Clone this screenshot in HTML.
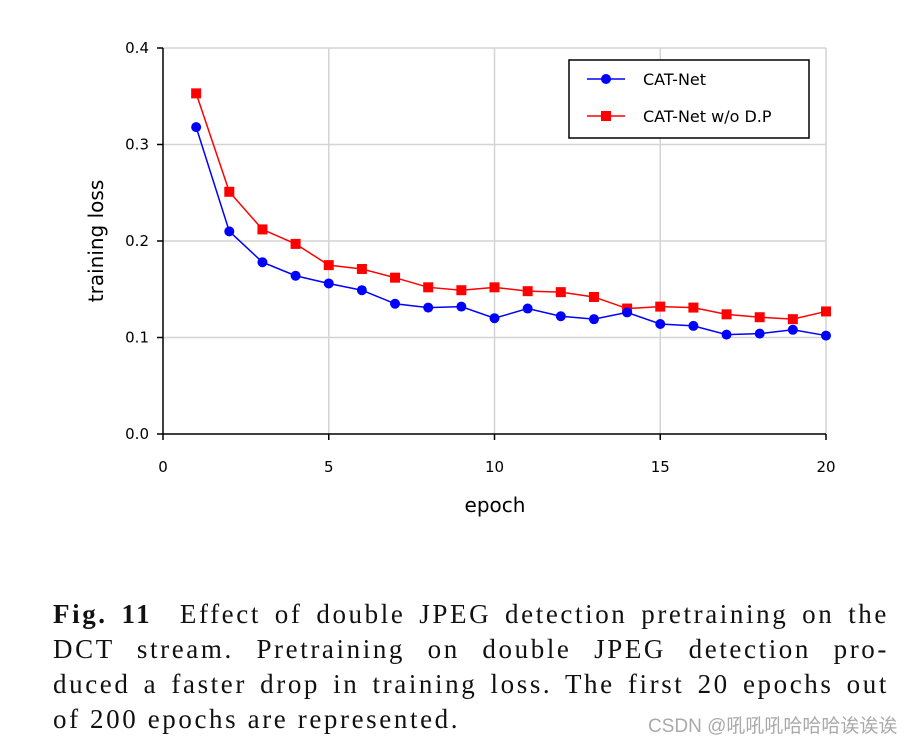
<!DOCTYPE html>
<html><head><meta charset="utf-8"><style>
body{margin:0;width:917px;height:744px;background:#fff;position:relative;overflow:hidden}
.cap{position:absolute;left:53px;width:836px;font-family:"Liberation Serif",serif;font-size:27px;letter-spacing:2.6px;line-height:35px;color:#111;white-space:nowrap}
.j{text-align:justify;text-align-last:justify;white-space:normal}
</style></head><body>
<svg id="chart" width="917" height="580" style="position:absolute;left:0;top:0" font-family="DejaVu Sans, Liberation Sans, sans-serif"></svg>
<div class="cap j" style="top:597px"><b>Fig. 11</b>&nbsp; Effect of double JPEG detection pretraining on the</div>
<div class="cap j" style="top:632px">DCT stream. Pretraining on double JPEG detection pro-</div>
<div class="cap j" style="top:667px">duced a faster drop in training loss. The first 20 epochs out</div>
<div class="cap" style="top:702px">of 200 epochs are represented.</div>
<div style="position:absolute;left:648px;top:711px;font-family:'Liberation Sans','Noto Sans CJK SC',sans-serif;font-size:19px;color:#aaa">CSDN @吼吼吼哈哈哈诶诶诶</div>
<script>
const epochs=[1,2,3,4,5,6,7,8,9,10,11,12,13,14,15,16,17,18,19,20];
const catNet=[0.318,0.210,0.178,0.164,0.156,0.149,0.135,0.131,0.132,0.120,0.130,0.122,0.119,0.126,0.114,0.112,0.103,0.104,0.108,0.102];
const catNetNoDP=[0.353,0.251,0.212,0.197,0.175,0.171,0.162,0.152,0.149,0.152,0.148,0.147,0.142,0.130,0.132,0.131,0.124,0.121,0.119,0.127];
const xTicks=[0,5,10,15,20];
const yTicks=[0.0,0.1,0.2,0.3,0.4];
const svg=document.getElementById('chart');
const NS='http://www.w3.org/2000/svg';
const X0=163,X1=826,Y0=434,Y1=48;
const sx=v=>X0+(v-0)/20*(X1-X0);
const sy=v=>Y0-(v/0.4)*(Y0-Y1);
function mk(t,a,p){const e=document.createElementNS(NS,t);for(const k in a)e.setAttribute(k,a[k]);(p||svg).appendChild(e);return e;}
xTicks.forEach(t=>{if(t>0){const l=mk('line',{x1:sx(t),x2:sx(t),y1:Y1,y2:Y0,stroke:'#d4d4d4','stroke-width':1.5});

}});
yTicks.forEach(t=>{if(t>0){const l=mk('line',{x1:X0,x2:X1,y1:sy(t),y2:sy(t),stroke:'#d4d4d4','stroke-width':1.5});

}});
const ax=mk('path',{d:`M${X0},${Y1}V${Y0}H${X1}`,fill:'none',stroke:'#000','stroke-width':1.5});


xTicks.forEach(t=>{mk('line',{x1:sx(t),x2:sx(t),y1:Y0,y2:Y0+6,stroke:'#000','stroke-width':1.5});
const tx=mk('text',{x:sx(t),y:Y0+38,'text-anchor':'middle','font-size':15});tx.textContent=t;

});
yTicks.forEach(t=>{mk('line',{x1:X0-6,x2:X0,y1:sy(t),y2:sy(t),stroke:'#000','stroke-width':1.5});
const tx=mk('text',{x:X0-14,y:sy(t)+5,'text-anchor':'end','font-size':15});tx.textContent=t.toFixed(1);

});
const xt=mk('text',{x:495,y:512,'text-anchor':'middle','font-size':20});xt.textContent='epoch';


const yt=mk('text',{x:0,y:0,'text-anchor':'middle','font-size':20,transform:'translate(103,241) rotate(-90)'});yt.textContent='training loss';


function series(vals,color,shape,name){
 const pl=mk('polyline',{points:epochs.map((e,i)=>sx(e)+','+sy(vals[i])).join(' '),fill:'none',stroke:color,'stroke-width':1.5});
 
 
 epochs.forEach((e,i)=>{let m;
  if(shape==='c')m=mk('circle',{cx:sx(e),cy:sy(vals[i]),r:5,fill:color});
  else m=mk('rect',{x:sx(e)-5,y:sy(vals[i])-5,width:10,height:10,fill:color});
  
  });
}
series(catNetNoDP,'#ff0000','s','cat-net-wo-dp');
series(catNet,'#0000ff','c','cat-net');
const lg=mk('g',{});


mk('rect',{x:569,y:60,width:240,height:78,fill:'#fff',stroke:'#000','stroke-width':1.5},lg);
mk('line',{x1:587,x2:625,y1:79,y2:79,stroke:'#0000ff','stroke-width':1.5},lg);
mk('circle',{cx:606,cy:79,r:5,fill:'#0000ff'},lg);
const l1=mk('text',{x:643,y:85,'font-size':16},lg);l1.textContent='CAT-Net';


mk('line',{x1:587,x2:625,y1:116,y2:116,stroke:'#ff0000','stroke-width':1.5},lg);
mk('rect',{x:601,y:111,width:10,height:10,fill:'#ff0000'},lg);
const l2=mk('text',{x:643,y:122,'font-size':16},lg);l2.textContent='CAT-Net w/o D.P';


</script>
</body></html>
